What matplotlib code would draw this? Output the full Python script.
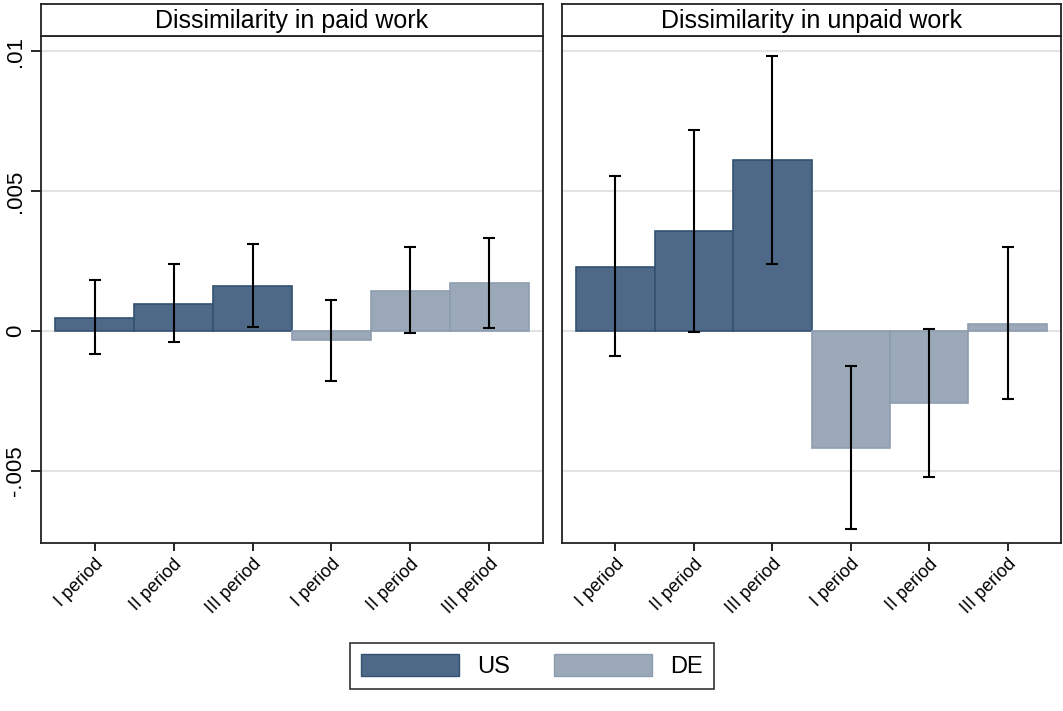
import matplotlib
matplotlib.use("Agg")
import matplotlib.pyplot as plt
from matplotlib.patches import Patch

plt.rcParams['font.family'] = ['Liberation Sans', 'DejaVu Sans']

# periods for each country, bars are US I-III then DE I-III
periodos = ["I period", "II period", "III period", "I period", "II period", "III period"]
paises = ["US", "US", "US", "DE", "DE", "DE"]

# dissimilarity in paid work
pago = [0.00048, 0.00098, 0.00161, -0.00032, 0.00144, 0.00171]
pago_lo = [-0.00083, -0.00040, 0.00013, -0.00180, -0.00008, 0.00011]
pago_hi = [0.00181, 0.00240, 0.00312, 0.00112, 0.00301, 0.00333]

# dissimilarity in unpaid work
naopago = [0.00230, 0.00358, 0.00610, -0.00419, -0.00256, 0.00025]
naopago_lo = [-0.00089, -0.00002, 0.00238, -0.00708, -0.00523, -0.00244]
naopago_hi = [0.00555, 0.00720, 0.00982, -0.00126, 0.00007, 0.00300]

titulos = ["Dissimilarity in paid work", "Dissimilarity in unpaid work"]

corFill = {"US": "#4e6887", "DE": "#9aa8b7"}
corBorda = {"US": "#34516f", "DE": "#8d9db0"}

W, H = 1063, 711
fig = plt.figure(figsize=(W / 100, H / 100), dpi=100)

def painel(x0, x1, valores, lo, hi, titulo, mostraY):
    ax = fig.add_axes([x0 / W, (H - 543) / H, (x1 - x0) / W, (543 - 36) / H])
    xs = list(range(1, len(valores) + 1))
    for x, v, p in zip(xs, valores, paises):
        ax.bar(x, v, width=1.0, color=corFill[p], edgecolor=corBorda[p], linewidth=1.2, zorder=2)
    baixo = [v - l for v, l in zip(valores, lo)]
    cima = [h - v for v, h in zip(valores, hi)]
    ax.errorbar(xs, valores, yerr=[baixo, cima], fmt="none", ecolor="black",
                elinewidth=1.5, capsize=4, capthick=1.5, zorder=3)
    ax.set_xlim(0.32, 6.68)
    ax.set_ylim(-0.00757, 0.01054)
    ax.set_yticks([-0.005, 0, 0.005, 0.01])
    ax.grid(axis="y", color="#e3e3e3", linewidth=1.5, zorder=0)
    ax.set_axisbelow(True)
    ax.set_xticks(xs)
    ax.set_xticklabels(periodos, rotation=45, ha="right", rotation_mode="anchor", fontsize=13)
    ax.tick_params(axis="x", length=6, width=1.2, pad=3)
    if mostraY:
        ax.set_yticklabels(["-.005", "0", ".005", ".01"], rotation=90, va="center", fontsize=16)
        ax.tick_params(axis="y", length=7, width=1.2, pad=4)
    else:
        ax.tick_params(axis="y", left=False, labelleft=False)
    for s in ax.spines.values():
        s.set_linewidth(1.3)
        s.set_color("#222222")

    # faixa do título
    tira = fig.add_axes([x0 / W, (H - 36) / H, (x1 - x0) / W, 32 / H])
    tira.set_xticks([])
    tira.set_yticks([])
    for s in tira.spines.values():
        s.set_linewidth(1.3)
        s.set_color("#222222")
    tira.text(0.5, 0.47, titulo, ha="center", va="center", fontsize=18, transform=tira.transAxes)
    return ax

painel(41, 543, pago, pago_lo, pago_hi, titulos[0], True)
painel(562, 1061, naopago, naopago_lo, naopago_hi, titulos[1], False)

handles = [Patch(facecolor=corFill["US"], edgecolor=corBorda["US"], label="US"),
           Patch(facecolor=corFill["DE"], edgecolor=corBorda["DE"], label="DE")]
leg = fig.legend(handles=handles, loc="center", bbox_to_anchor=(532 / W, (H - 666) / H),
                 ncol=2, fontsize=17, frameon=True, fancybox=False, edgecolor="black",
                 handlelength=4.15, handleheight=1.1, columnspacing=1.9, handletextpad=0.75,
                 borderpad=0.45)
leg.get_frame().set_linewidth(1.2)

fig.savefig("out.png", dpi=100)
